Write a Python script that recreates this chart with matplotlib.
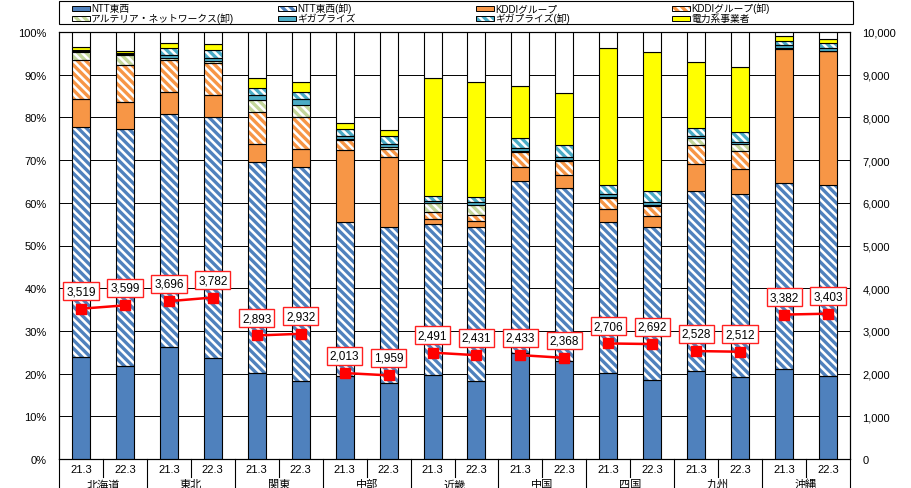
import numpy as np
import matplotlib.pyplot as plt
from matplotlib.patches import Rectangle

plt.rcParams['font.family'] = ['Liberation Sans', 'Noto Sans CJK JP']
plt.rcParams['hatch.linewidth'] = 2.4

regions = ['北海道', '東北', '関東', '中部', '近畿', '中国', '四国', '九州', '沖縄']
periods = ['21.3', '22.3']

# shares (%) per bar, two bars per region (21.3, 22.3)
ntt = [24.0, 21.8, 26.2, 23.7, 20.2, 18.2, 19.5, 17.7, 19.7, 18.2, 24.8, 22.9, 20.1, 18.6, 20.7, 19.1, 21.1, 19.4]
ntt_wh = [53.7, 55.5, 54.6, 56.3, 49.3, 50.3, 36.1, 36.6, 35.3, 36.1, 40.2, 40.5, 35.5, 35.7, 42.1, 43.0, 43.5, 44.8]
kddi = [6.6, 6.2, 5.2, 5.3, 4.3, 4.1, 16.8, 16.4, 1.2, 1.4, 3.5, 3.2, 2.9, 2.7, 6.3, 5.7, 31.5, 31.3]
kddi_wh = [9.2, 8.8, 7.5, 7.4, 7.5, 7.4, 2.2, 1.9, 1.6, 1.4, 3.5, 3.3, 2.6, 2.3, 4.4, 4.3, 0.1, 0.0]
arteria_wh = [1.8, 2.2, 0.5, 0.6, 2.8, 2.9, 0.4, 0.5, 2.2, 2.4, 0.2, 0.2, 0.2, 0.2, 1.7, 1.7, 0.1, 0.1]
giga = [0.2, 0.3, 0.6, 0.6, 1.1, 1.4, 0.6, 0.7, 0.5, 0.8, 0.6, 0.6, 0.8, 0.8, 0.5, 0.5, 0.7, 0.6]
giga_wh = [0.3, 0.3, 1.7, 2.0, 1.6, 1.6, 1.8, 1.9, 1.0, 1.0, 2.4, 2.8, 2.1, 2.5, 1.8, 2.2, 0.8, 1.2]
power = [0.6, 0.5, 1.1, 1.3, 2.4, 2.3, 1.3, 1.3, 27.7, 27.1, 12.1, 12.1, 32.0, 32.6, 15.5, 15.4, 1.2, 1.0]

# contracts (thousands), right axis
contracts = [3519, 3599, 3696, 3782, 2893, 2932, 2013, 1959, 2491, 2431,
             2433, 2368, 2706, 2692, 2528, 2512, 3382, 3403]

HATCH = '\\' * 4
series = [
    ('NTT東西', ntt, '#4F81BD', None),
    ('NTT東西(卸)', ntt_wh, '#4F81BD', HATCH),
    ('KDDIグループ', kddi, '#F79646', None),
    ('KDDIグループ(卸)', kddi_wh, '#F79646', HATCH),
    ('アルテリア・ネットワークス(卸)', arteria_wh, '#C3D69B', HATCH),
    ('ギガプライズ', giga, '#4BACC6', None),
    ('ギガプライズ(卸)', giga_wh, '#4BACC6', HATCH),
    ('電力系事業者', power, '#FFFF00', None),
]

W, H = 911, 489
fig = plt.figure(figsize=(W / 100, H / 100), dpi=100)
ax = fig.add_axes([59 / W, 29 / H, 791 / W, 427 / H])

x = np.arange(len(ntt))
bw = 0.41
bottom = np.zeros(len(x))
for name, vals, col, hatch in series:
    v = np.array(vals) / 100
    if hatch:
        ax.bar(x, v, bw, bottom, color='white', edgecolor=col, hatch=hatch, linewidth=0, zorder=2)
        ax.bar(x, v, bw, bottom, fill=False, edgecolor='black', linewidth=0.8, zorder=3)
    else:
        ax.bar(x, v, bw, bottom, color=col, edgecolor='black', linewidth=0.8, zorder=3)
    bottom += v
ax.bar(x, 1 - bottom, bw, bottom, color='white', edgecolor='black', linewidth=0.8, zorder=3)

ax.set_xlim(-0.5, len(x) - 0.5)
ax.set_ylim(0, 1)
ax.set_axisbelow(True)
ax.yaxis.grid(True, color='black', lw=0.7)
ax.set_yticks(np.arange(0, 1.001, 0.1))
ax.set_yticklabels([f'{int(round(t * 100))}%' for t in np.arange(0, 1.001, 0.1)], fontsize=8)
ax.tick_params(axis='y', length=0, pad=9)
ax.set_xticks([])
for s in ax.spines.values():
    s.set_linewidth(0.8)

# two-level category axis
trans = ax.get_xaxis_transform()
for i in x:
    ax.text(i, -0.024, periods[i % 2], ha='center', va='center', fontsize=8, transform=trans)
for g, r in enumerate(regions):
    ax.text(2 * g + 0.5, -0.059, r, ha='center', va='center', fontsize=8, transform=trans)
for k in range(len(x) + 1):
    y1 = -0.08 if k % 2 == 0 else -0.042
    ax.plot([k - 0.5, k - 0.5], [0, y1], transform=trans, color='black', lw=0.8, clip_on=False)

# right axis: contracts
ax2 = ax.twinx()
ax2.set_ylim(0, 10000)
ax2.set_yticks(range(0, 10001, 1000))
ax2.set_yticklabels([f'{t:,}' for t in range(0, 10001, 1000)], fontsize=8)
ax2.tick_params(axis='y', length=0, pad=9)
for s in ax2.spines.values():
    s.set_linewidth(0.8)
for g in range(len(regions)):
    xs = x[2 * g:2 * g + 2]
    ys = contracts[2 * g:2 * g + 2]
    ax2.plot(xs, ys, color='#FF0000', lw=1.8, marker='s', ms=7, zorder=4)
    for xi, yi in zip(xs, ys):
        ax2.annotate(f'{yi:,}', (xi, yi), xytext=(0, 12.5), textcoords='offset points',
                     ha='center', va='center', fontsize=8.5, zorder=5,
                     bbox=dict(boxstyle='square,pad=0.25', fc='white', ec='#FF2020', lw=1.0))

# legend box (drawn by hand to match fixed column layout)
fig.add_artist(Rectangle((59 / W, 1 - 25 / H), 794 / W, 23 / H, transform=fig.transFigure,
                         fill=False, ec='black', lw=0.8))
col_x = [72, 278, 476, 672]
row_y = [9, 19]
for i, (name, vals, col, hatch) in enumerate(series):
    cx = col_x[i % 4]
    cy = row_y[i // 4]
    hx, hy, hw, hh = cx / W, 1 - (cy + 2.5) / H, 18 / W, 5 / H
    if hatch:
        fig.add_artist(Rectangle((hx, hy), hw, hh, transform=fig.transFigure, fc='white',
                                 ec=col, hatch=HATCH, lw=0))
        fig.add_artist(Rectangle((hx, hy), hw, hh, transform=fig.transFigure, fill=False,
                                 ec='black', lw=0.7))
    else:
        fig.add_artist(Rectangle((hx, hy), hw, hh, transform=fig.transFigure, fc=col,
                                 ec='black', lw=0.7))
    fig.text((cx + 19) / W, 1 - cy / H, name, ha='left', va='center', fontsize=7)

fig.savefig('out.png', dpi=100)
